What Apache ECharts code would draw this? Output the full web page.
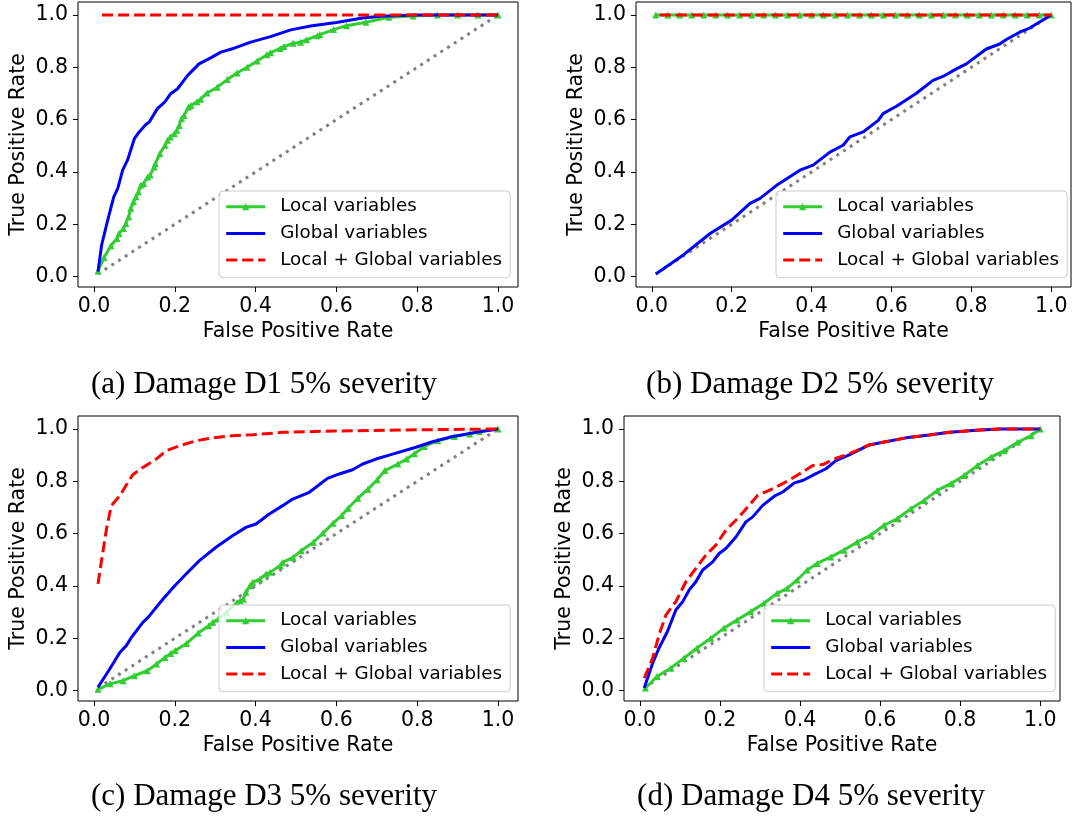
<!DOCTYPE html>
<html>
<head>
<meta charset="utf-8">
<script src="https://cdn.jsdelivr.net/npm/echarts@6/dist/echarts.min.js"></script>
<style>
  html, body { margin: 0; padding: 0; background: #fff; }
  #chart { width: 1079px; height: 819px; }
</style>
</head>
<body>
<div id="chart"></div>
<script>
// ROC curves: [false positive rate, true positive rate]
const seriesNames = ['Local variables', 'Global variables', 'Local + Global variables'];
const tickValues = [0, 0.2, 0.4, 0.6, 0.8, 1.0];
const captions = ['(a) Damage D1 5% severity', '(b) Damage D2 5% severity',
                  '(c) Damage D3 5% severity', '(d) Damage D4 5% severity'];
const chanceLine = [[0.01, 0.01], [1.0, 1.0]];

// D1
const d1Local = [[0.01,0.022],[0.025,0.073],[0.042,0.118],[0.057,0.146],[0.062,0.165],[0.073,0.184],[0.079,0.203],[0.086,0.229],[0.091,0.261],[0.098,0.286],[0.104,0.305],[0.11,0.324],[0.116,0.349],[0.123,0.356],[0.133,0.381],[0.139,0.388],[0.149,0.419],[0.152,0.432],[0.163,0.47],[0.176,0.502],[0.182,0.521],[0.189,0.534],[0.199,0.546],[0.205,0.559],[0.211,0.578],[0.217,0.604],[0.223,0.616],[0.234,0.648],[0.24,0.654],[0.255,0.668],[0.264,0.678],[0.28,0.702],[0.305,0.724],[0.33,0.753],[0.354,0.778],[0.379,0.8],[0.404,0.824],[0.428,0.848],[0.437,0.856],[0.461,0.872],[0.47,0.879],[0.493,0.892],[0.511,0.896],[0.526,0.905],[0.553,0.921],[0.559,0.925],[0.593,0.944],[0.625,0.959],[0.673,0.972],[0.73,0.991],[0.79,0.996],[0.85,1.0],[0.9,1.0],[0.95,1.0],[1.0,1.0]];
const d1Global = [[0.01,0.02],[0.019,0.121],[0.034,0.216],[0.049,0.305],[0.059,0.337],[0.071,0.407],[0.083,0.445],[0.1,0.527],[0.112,0.553],[0.129,0.582],[0.137,0.591],[0.157,0.642],[0.175,0.667],[0.19,0.699],[0.207,0.718],[0.232,0.769],[0.26,0.813],[0.289,0.836],[0.314,0.858],[0.347,0.873],[0.388,0.896],[0.437,0.917],[0.487,0.943],[0.536,0.958],[0.6,0.971],[0.665,0.988],[0.71,0.995],[0.79,1.0],[1.0,1.0]];
const d1Combined = [[0.02,1.0],[1.0,1.0]];

// D2
const d2Local = [[0.01,1.0],[0.04,1.0],[0.07,1.0],[0.1,1.0],[0.13,1.0],[0.16,1.0],[0.19,1.0],[0.22,1.0],[0.25,1.0],[0.28,1.0],[0.31,1.0],[0.34,1.0],[0.37,1.0],[0.4,1.0],[0.43,1.0],[0.46,1.0],[0.49,1.0],[0.52,1.0],[0.55,1.0],[0.58,1.0],[0.61,1.0],[0.64,1.0],[0.67,1.0],[0.7,1.0],[0.73,1.0],[0.76,1.0],[0.79,1.0],[0.82,1.0],[0.85,1.0],[0.88,1.0],[0.91,1.0],[0.94,1.0],[0.97,1.0],[1.0,1.0]];
const d2Global = [[0.01,0.01],[0.079,0.083],[0.146,0.165],[0.2,0.216],[0.246,0.28],[0.271,0.299],[0.3125,0.349],[0.371,0.407],[0.404,0.426],[0.446,0.476],[0.479,0.502],[0.496,0.534],[0.529,0.553],[0.567,0.597],[0.579,0.623],[0.6125,0.651],[0.6625,0.701],[0.704,0.75],[0.729,0.765],[0.7625,0.794],[0.7875,0.813],[0.804,0.832],[0.8375,0.870],[0.871,0.889],[0.8875,0.906],[0.921,0.934],[0.946,0.950],[1.0,1.0]];
const d2Combined = [[0.02,1.0],[1.0,1.0]];

// D3
const d3Local = [[0.01,0.005],[0.04,0.026],[0.072,0.038],[0.1,0.057],[0.132,0.076],[0.155,0.102],[0.176,0.127],[0.19,0.142],[0.201,0.153],[0.229,0.18],[0.258,0.22],[0.284,0.248],[0.294,0.261],[0.308,0.274],[0.328,0.299],[0.354,0.337],[0.362,0.344],[0.37,0.35],[0.376,0.376],[0.386,0.401],[0.393,0.414],[0.411,0.427],[0.426,0.446],[0.436,0.452],[0.461,0.478],[0.467,0.49],[0.493,0.509],[0.513,0.535],[0.543,0.567],[0.567,0.602],[0.592,0.64],[0.613,0.669],[0.629,0.697],[0.653,0.735],[0.678,0.77],[0.701,0.806],[0.72,0.841],[0.752,0.866],[0.774,0.885],[0.793,0.905],[0.818,0.933],[0.851,0.955],[0.892,0.971],[0.93,0.981],[0.954,0.99],[1.0,1.0]];
const d3Global = [[0.01,0.013],[0.039,0.083],[0.064,0.146],[0.08,0.172],[0.093,0.204],[0.121,0.261],[0.134,0.28],[0.171,0.35],[0.2,0.401],[0.228,0.446],[0.261,0.497],[0.302,0.548],[0.343,0.592],[0.376,0.624],[0.401,0.637],[0.434,0.675],[0.467,0.707],[0.492,0.732],[0.533,0.758],[0.578,0.811],[0.607,0.828],[0.64,0.844],[0.665,0.866],[0.698,0.885],[0.739,0.904],[0.797,0.930],[0.838,0.951],[0.879,0.968],[0.937,0.985],[1.0,1.0]];
const d3Combined = [[0.01,0.408],[0.018,0.49],[0.031,0.618],[0.043,0.707],[0.064,0.745],[0.084,0.796],[0.096,0.825],[0.121,0.853],[0.154,0.885],[0.179,0.917],[0.212,0.936],[0.253,0.955],[0.294,0.966],[0.343,0.974],[0.393,0.978],[0.467,0.987],[0.591,0.992],[0.756,0.996],[1.0,1.0]];

// D4
const d4Local = [[0.014,0.01],[0.043,0.054],[0.077,0.086],[0.11,0.124],[0.143,0.163],[0.177,0.2],[0.21,0.239],[0.243,0.27],[0.277,0.302],[0.31,0.334],[0.343,0.372],[0.368,0.391],[0.393,0.423],[0.418,0.461],[0.443,0.486],[0.477,0.511],[0.51,0.537],[0.543,0.568],[0.577,0.594],[0.61,0.632],[0.643,0.657],[0.677,0.695],[0.71,0.727],[0.743,0.765],[0.777,0.791],[0.81,0.822],[0.843,0.86],[0.877,0.892],[0.91,0.917],[0.943,0.949],[0.977,0.974],[1.0,1.0]];
const d4Global = [[0.011,0.01],[0.032,0.105],[0.048,0.163],[0.069,0.226],[0.082,0.277],[0.09,0.308],[0.107,0.34],[0.123,0.384],[0.14,0.416],[0.157,0.461],[0.182,0.492],[0.198,0.524],[0.215,0.543],[0.24,0.587],[0.265,0.645],[0.282,0.664],[0.307,0.708],[0.336,0.743],[0.357,0.759],[0.386,0.794],[0.407,0.803],[0.44,0.829],[0.465,0.848],[0.49,0.879],[0.523,0.901],[0.573,0.939],[0.607,0.949],[0.665,0.966],[0.723,0.977],[0.773,0.987],[0.84,0.995],[0.898,1.0],[1.0,1.0]];
const d4Combined = [[0.011,0.048],[0.032,0.124],[0.048,0.213],[0.065,0.289],[0.09,0.34],[0.115,0.416],[0.14,0.467],[0.165,0.518],[0.19,0.556],[0.215,0.613],[0.248,0.664],[0.273,0.708],[0.294,0.746],[0.323,0.765],[0.357,0.791],[0.39,0.82],[0.432,0.86],[0.457,0.864],[0.49,0.888],[0.523,0.905],[0.573,0.939],[0.607,0.949],[0.665,0.966],[0.723,0.977],[0.773,0.987],[0.84,0.995],[0.898,1.0],[1.0,1.0]];

const panelData = [
  [d1Local, d1Global, d1Combined],
  [d2Local, d2Global, d2Combined],
  [d3Local, d3Global, d3Combined],
  [d4Local, d4Global, d4Combined]
];

// Panel geometry (plot frames, legend boxes, caption centres)
const layout = [
  { grid: { left: 78,  top: 2,   width: 440, height: 285 }, legend: { left: 219, top: 191 }, caption: [264, 385] },
  { grid: { left: 636, top: 2,   width: 435, height: 285 }, legend: { left: 776, top: 191 }, caption: [820, 385] },
  { grid: { left: 78,  top: 416, width: 440, height: 285 }, legend: { left: 219, top: 605 }, caption: [264, 797] },
  { grid: { left: 624, top: 416, width: 436, height: 285 }, legend: { left: 764, top: 605 }, caption: [811, 797] }
];

const AX_MIN = -0.0395, AX_MAX = 1.0495;
const sans = 'DejaVu Sans';
const colors = ['#32cd32', '#0000ff', '#ff0000'];

const grids = [], xAxes = [], yAxes = [], series = [], legends = [], graphics = [];

layout.forEach((p, i) => {
  grids.push(Object.assign({ show: true, borderColor: '#000', borderWidth: 1, backgroundColor: 'transparent' }, p.grid));
  const common = {
    type: 'value', gridIndex: i, min: AX_MIN, max: AX_MAX,
    splitLine: { show: false },
    axisLine: { show: false, onZero: false },
    axisTick: { show: true, inside: false, length: 5, customValues: tickValues, lineStyle: { color: '#000', width: 1 } },
    nameLocation: 'middle',
    nameTextStyle: { fontFamily: sans, fontSize: 20.5, color: '#000' }
  };
  xAxes.push(Object.assign({}, common, {
    name: 'False Positive Rate', nameGap: 34,
    axisLabel: { customValues: tickValues, margin: 9, fontFamily: sans, fontSize: 20.5, color: '#000', formatter: v => v.toFixed(1) }
  }));
  yAxes.push(Object.assign({}, common, {
    name: 'True Positive Rate', nameGap: 49,
    axisLabel: { customValues: tickValues, margin: 10, fontFamily: sans, fontSize: 20.5, color: '#000', formatter: v => v.toFixed(1) }
  }));

  series.push({
    type: 'line', xAxisIndex: i, yAxisIndex: i, data: chanceLine, symbol: 'none',
    lineStyle: { color: '#808080', width: 3, type: [3, 5] }, silent: true, z: 1
  });
  const [local, global, combined] = panelData[i];
  series.push({
    name: seriesNames[0], type: 'line', xAxisIndex: i, yAxisIndex: i, data: local,
    symbol: 'triangle', symbolSize: [7, 7], showSymbol: true,
    itemStyle: { color: colors[0] }, lineStyle: { color: colors[0], width: 3 }, z: 2
  });
  series.push({
    name: seriesNames[1], type: 'line', xAxisIndex: i, yAxisIndex: i, data: global,
    symbol: 'none', itemStyle: { color: colors[1] }, lineStyle: { color: colors[1], width: 3 }, z: 3
  });
  series.push({
    name: seriesNames[2], type: 'line', xAxisIndex: i, yAxisIndex: i, data: combined,
    symbol: 'none', itemStyle: { color: colors[2] }, lineStyle: { color: colors[2], width: 3, type: [11, 5] }, z: 4
  });

  legends.push({
    data: [
      { name: seriesNames[0] },
      { name: seriesNames[1], itemStyle: { opacity: 0 } },
      { name: seriesNames[2], itemStyle: { opacity: 0 } }
    ],
    orient: 'vertical', left: p.legend.left, top: p.legend.top,
    itemWidth: 39, itemHeight: 9, itemGap: 8.7,
    padding: [6.7, 8.3, 8.6, 5.7],
    lineStyle: { width: 3 },
    backgroundColor: 'rgba(255,255,255,0.8)', borderColor: '#cccccc', borderWidth: 1, borderRadius: 4,
    selectedMode: false,
    textStyle: { fontFamily: sans, fontSize: 18.3, lineHeight: 18, color: '#000', padding: [0, 0, 0, 10] }
  });

  graphics.push({
    type: 'text', x: p.caption[0], y: p.caption[1],
    style: { text: captions[i], font: '31px "Liberation Serif"', fill: '#000', textAlign: 'center', textVerticalAlign: 'middle' }
  });
});

const chart = echarts.init(document.getElementById('chart'), null, { renderer: 'canvas' });
chart.setOption({
  animation: false,
  backgroundColor: '#fff',
  grid: grids, xAxis: xAxes, yAxis: yAxes, series: series, legend: legends, graphic: graphics
});
</script>
</body>
</html>
